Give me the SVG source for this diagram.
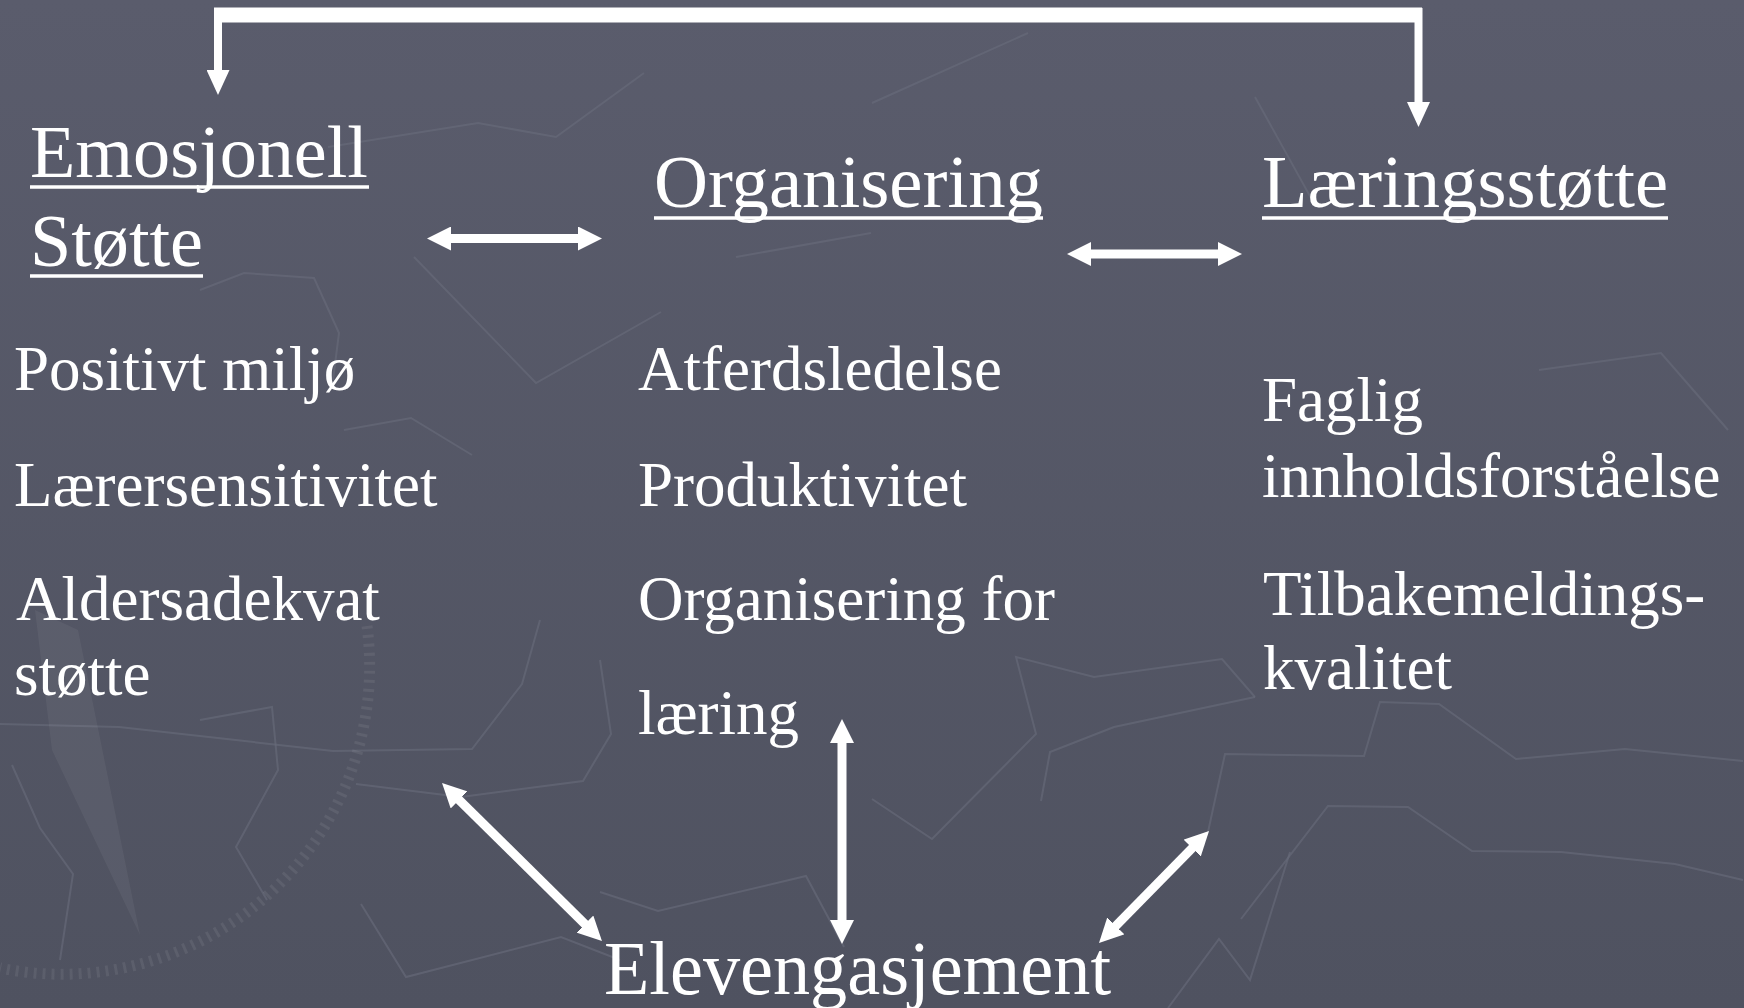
<svg xmlns="http://www.w3.org/2000/svg" width="1744" height="1008" viewBox="0 0 1744 1008">
<defs>
<linearGradient id="bg" x1="0" y1="0" x2="0" y2="1">
<stop offset="0" stop-color="#5a5c6c"/>
<stop offset="1" stop-color="#4f5260"/>
</linearGradient>
<marker id="ah" viewBox="0 0 24 24" markerWidth="24" markerHeight="24" refX="1" refY="12" orient="auto-start-reverse" markerUnits="userSpaceOnUse">
<path d="M0,0 L24,12 L0,24 z" fill="#ffffff"/>
</marker>
<marker id="ahTop" viewBox="0 0 25 23" markerWidth="25" markerHeight="23" refX="1" refY="11.5" orient="auto" markerUnits="userSpaceOnUse">
<path d="M0,0 L25,11.5 L0,23 z" fill="#ffffff"/>
</marker>
<style>
.t{font-family:"Liberation Serif","Times New Roman",serif;fill:#ffffff;}
.h{font-size:74px;}
.b{font-size:63px;}
.ul{stroke:#ffffff;stroke-width:3.5;}
.deco{fill:none;stroke:#696c7c;stroke-width:2;stroke-linejoin:miter;opacity:0.6;}
.conn{stroke:#ffffff;stroke-width:9;fill:none;}
</style>
</defs>

<g id="background">
<rect x="0" y="0" width="1744" height="1008" fill="url(#bg)"/>
<polyline class="deco" points="414,257 536,383 661,312"/>
<polyline class="deco" points="200,290 244,273 314,278 339,333 333,380"/>
<polyline class="deco" points="344,430 411,418 472,455"/>
<polyline class="deco" points="328,147 478,123 556,137 644,73"/>
<polyline class="deco" points="736,257 871,233"/>
<polyline class="deco" points="872,103 1028,33"/>
<polyline class="deco" points="1255,97 1316,207"/>
<polyline class="deco" points="1539,370 1661,353 1728,430"/>
<polyline class="deco" points="872,799 932,839 1036,734 1016,657 1094,677 1222,659 1255,697"/>
<polyline class="deco" points="1041,801 1050,752 1114,727 1255,697"/>
<polyline class="deco" points="1208,832 1225,754 1364,756 1380,702 1439,704 1516,759 1625,749 1743,761"/>
<polyline class="deco" points="1241,919 1328,806 1408,807 1472,851 1561,852 1675,864 1743,880"/>
<polyline class="deco" points="1168,1008 1219,939 1250,980 1290,852"/>
<polyline class="deco" points="0,724 119,727 333,751 472,749 522,684 540,620"/>
<polyline class="deco" points="356,784 461,797 583,781 611,734 600,660"/>
<polyline class="deco" points="600,892 658,911 806,876 844,947"/>
<polyline class="deco" points="361,904 406,977 561,937 620,960"/>
<polyline class="deco" points="200,720 272,707 278,770 236,847 267,900"/>
<polyline class="deco" points="12,765 40,828 73,874 60,960"/>
<polygon points="35,610 78,630 140,935 52,750" fill="#ffffff" opacity="0.05"/>
<path d="M367,626 A308,308 0 0 1 0,968" fill="none" stroke="#ffffff" stroke-opacity="0.07" stroke-width="11" stroke-dasharray="3 6"/>
</g>

<g id="connectors">
<line x1="214" y1="15" x2="1422" y2="15" stroke="#ffffff" stroke-width="15"/>
<line x1="218" y1="8" x2="218" y2="71" stroke="#ffffff" stroke-width="8" marker-end="url(#ahTop)"/>
<line x1="1418.5" y1="8" x2="1418.5" y2="103" stroke="#ffffff" stroke-width="8" marker-end="url(#ahTop)"/>
<line class="conn" x1="450" y1="238.5" x2="579" y2="238.5" marker-start="url(#ah)" marker-end="url(#ah)"/>
<line class="conn" x1="1090" y1="254" x2="1219" y2="254" marker-start="url(#ah)" marker-end="url(#ah)"/>
<line class="conn" x1="842" y1="742" x2="842" y2="921" marker-start="url(#ah)" marker-end="url(#ah)"/>
<line class="conn" x1="458.4" y1="799.2" x2="585.6" y2="924.8" marker-start="url(#ah)" marker-end="url(#ah)"/>
<line class="conn" x1="1192.9" y1="847.4" x2="1115.1" y2="926.6" marker-start="url(#ah)" marker-end="url(#ah)"/>
</g>

<g id="node-emosjonell-stotte">
<text class="t h" x="30" y="177" textLength="338" lengthAdjust="spacingAndGlyphs">Emosjonell</text>
<line class="ul" x1="30" y1="187" x2="369" y2="187"/>
<text class="t h" x="30" y="266" textLength="173" lengthAdjust="spacingAndGlyphs">Støtte</text>
<line class="ul" x1="30" y1="276" x2="203" y2="276"/>
<text class="t b" x="14" y="390">Positivt miljø</text>
<text class="t b" x="14" y="506">Lærersensitivitet</text>
<text class="t b" x="16" y="620">Aldersadekvat</text>
<text class="t b" x="14" y="695">støtte</text>
</g>

<g id="node-organisering">
<text class="t h" x="654" y="207" textLength="389" lengthAdjust="spacingAndGlyphs">Organisering</text>
<line class="ul" x1="654" y1="218" x2="1043" y2="218"/>
<text class="t b" x="638" y="390">Atferdsledelse</text>
<text class="t b" x="638" y="506">Produktivitet</text>
<text class="t b" x="638" y="620">Organisering for</text>
<text class="t b" x="638" y="734">læring</text>
</g>

<g id="node-laeringsstotte">
<text class="t h" x="1262" y="207" textLength="406" lengthAdjust="spacingAndGlyphs">Læringsstøtte</text>
<line class="ul" x1="1262" y1="218" x2="1668" y2="218"/>
<text class="t b" x="1262" y="421">Faglig</text>
<text class="t b" x="1262" y="497">innholdsforståelse</text>
<text class="t b" x="1263" y="615">Tilbakemeldings-</text>
<text class="t b" x="1263" y="689">kvalitet</text>
</g>

<g id="node-elevengasjement">
<text class="t" x="604" y="994" font-size="76" textLength="507" lengthAdjust="spacingAndGlyphs">Elevengasjement</text>
</g>
</svg>
